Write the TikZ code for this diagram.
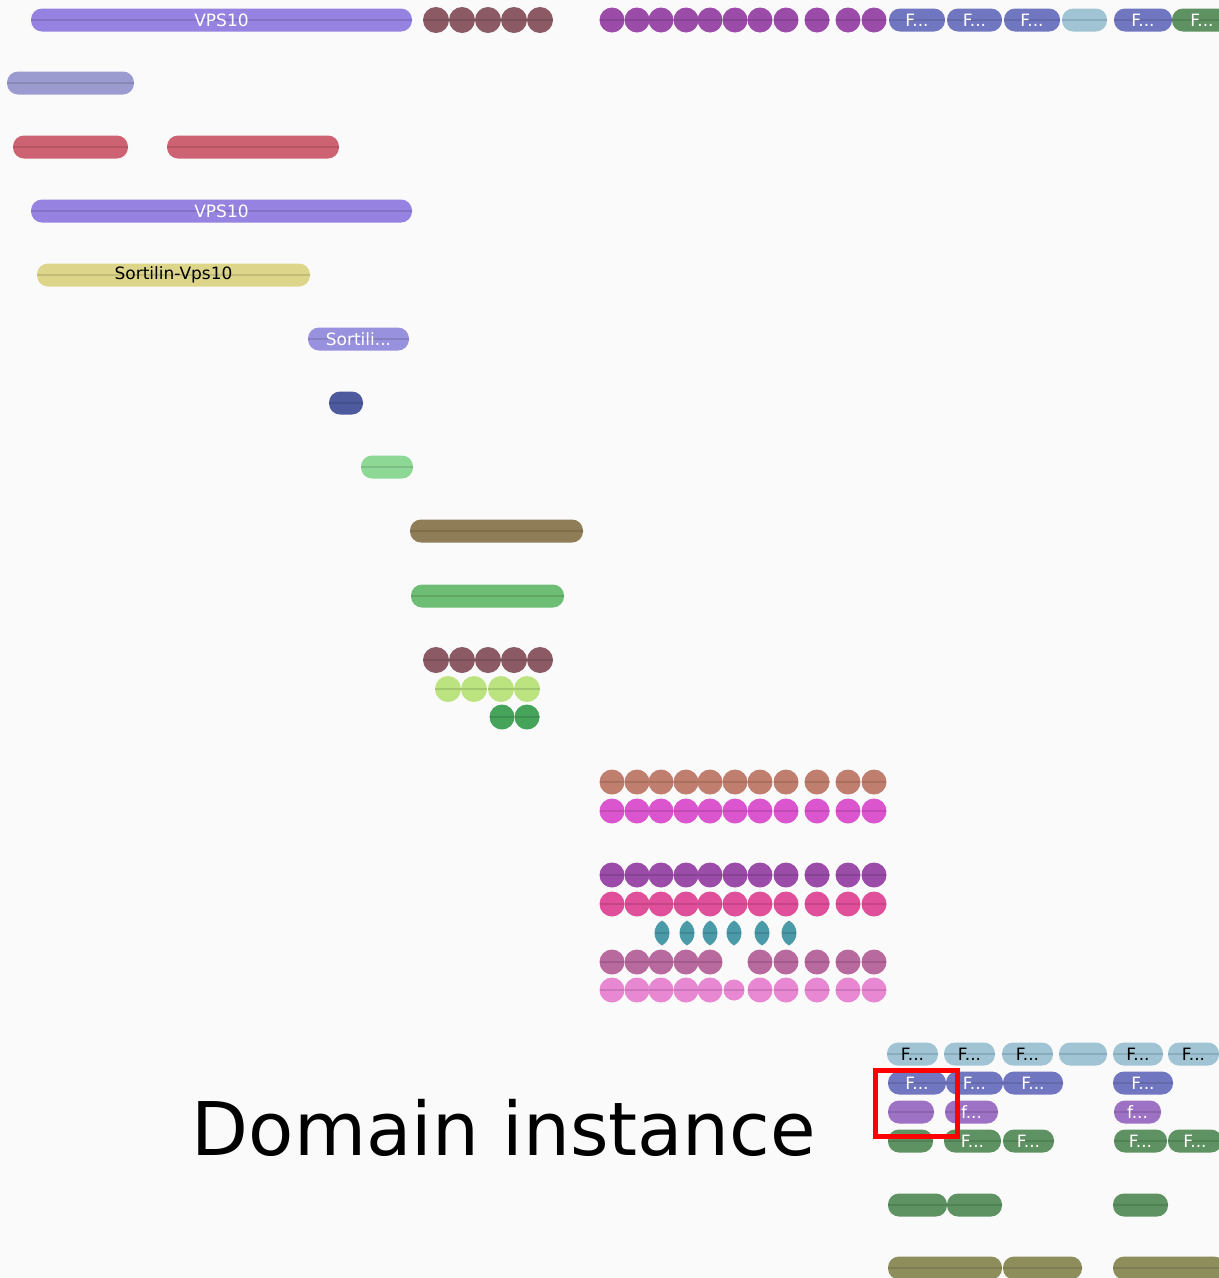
\documentclass[tikz,border=0pt]{standalone}
\usepackage{fontspec}
\setmainfont{DejaVu Sans}
\usetikzlibrary{positioning}

\definecolor{bgc}{RGB}{250,250,250}
\definecolor{vpsc}{RGB}{150,130,225}
\definecolor{wine}{RGB}{139,90,100}
\definecolor{plum}{RGB}{155,75,168}
\definecolor{fblue}{RGB}{112,119,192}
\definecolor{skyc}{RGB}{160,196,212}
\definecolor{fgreen}{RGB}{94,146,98}
\definecolor{lavc}{RGB}{156,155,208}
\definecolor{redc}{RGB}{205,98,114}
\definecolor{sandc}{RGB}{221,214,138}
\definecolor{sortc}{RGB}{152,145,222}
\definecolor{navyc}{RGB}{78,90,158}
\definecolor{mintc}{RGB}{142,216,150}
\definecolor{umber}{RGB}{142,125,86}
\definecolor{leaf}{RGB}{109,190,116}
\definecolor{lime}{RGB}{187,227,127}
\definecolor{grass}{RGB}{69,163,90}
\definecolor{salmon}{RGB}{192,127,110}
\definecolor{magen}{RGB}{218,85,206}
\definecolor{rose}{RGB}{224,80,154}
\definecolor{tealc}{RGB}{74,154,168}
\definecolor{mauve}{RGB}{184,105,158}
\definecolor{pinkc}{RGB}{232,135,210}
\definecolor{violc}{RGB}{157,114,196}
\definecolor{olivec}{RGB}{142,142,92}

\begin{document}
\begin{tikzpicture}[x=1pt,y=-1pt,
  dom/.style={rectangle,rounded corners=11pt,inner sep=0pt,minimum height=23pt,
    fill=#1,text=white,font=\fontsize{17}{17}\selectfont,
    path picture={\draw[#1!88!black,line width=1.6pt]
      (path picture bounding box.west) -- (path picture bounding box.east);}},
  dot/.style={circle,inner sep=0pt,minimum size=25pt,fill=#1,
    path picture={\draw[#1!88!black,line width=1.6pt]
      (path picture bounding box.west) -- (path picture bounding box.east);}}
]

\fill[bgc] (0,0) rectangle (1219,1278);
\useasboundingbox (0,0) rectangle (1219,1278);
\clip (0,0) rectangle (1219,1278);

% first row, full protein
\node[dom=vpsc,minimum width=381pt] (vpsA) at (221.5,20) {VPS10};
\foreach \cx [count=\i] in {436,462,488,514,540}
  \node[dot=wine,minimum size=26pt] (wineA\i) at (\cx,20) {};
\foreach \cx [count=\i] in {612,637,661,686,710,735,760,786,817,848,874}
  \node[dot=plum] (plumA\i) at (\cx,20) {};
\node[dom=fblue,minimum width=56pt] (fA1) at (917,20) {F...};
\node[dom=fblue,minimum width=55pt] (fA2) at (974.5,20) {F...};
\node[dom=fblue,minimum width=56pt] (fA3) at (1032,20) {F...};
\node[dom=skyc,minimum width=45pt] (fA4) at (1084.5,20) {};
\node[dom=fblue,minimum width=58pt] (fA5) at (1143,20) {F...};
\node[dom=fgreen,minimum width=60pt] (fA6) at (1202,20) {F...};

% left staircase
\node[dom=lavc,minimum width=127pt] (lav) at (70.5,83) {};
\node[dom=redc,minimum width=115pt] (redA) at (70.5,147) {};
\node[dom=redc,minimum width=172pt] (redB) at (253,147) {};
\node[dom=vpsc,minimum width=381pt] (vpsB) at (221.5,211) {VPS10};
\node[dom=sandc,minimum width=273pt,text=black] (sortA) at (173.5,275) {Sortilin-Vps10};
\node[dom=sortc,minimum width=101pt] (sortB) at (358.5,339) {Sortili...};
\node[dom=navyc,minimum width=34pt] (navy) at (346,403) {};
\node[dom=mintc,minimum width=52pt] (mint) at (387,467) {};
\node[dom=umber,minimum width=173pt] (umb) at (496.5,531) {};
\node[dom=leaf,minimum width=153pt] (leaf) at (487.5,596) {};

% repeats
\foreach \cx [count=\i] in {436,462,488,514,540}
  \node[dot=wine,minimum size=26pt] (wineB\i) at (\cx,660) {};
\foreach \cx [count=\i] in {448,474,501,527}
  \node[dot=lime,minimum size=26pt] (lime\i) at (\cx,689) {};
\foreach \cx [count=\i] in {502,527}
  \node[dot=grass] (grass\i) at (\cx,717) {};

\foreach \ry/\col/\nm in {782/salmon/sal,811/magen/mag,875/plum/plumB,904/rose/ros}
  \foreach \cx [count=\i] in {612,637,661,686,710,735,760,786,817,848,874}
    \node[dot=\col] (\nm\i) at (\cx,\ry) {};

\foreach \cx [count=\i] in {662,687,710,734,762,789}{
  \coordinate (lens\i) at (\cx,933);
  \fill[tealc,shift={(lens\i)}] (0,-12.5) .. controls (10,-7) and (10,7) .. (0,12.5)
    .. controls (-10,7) and (-10,-7) .. cycle;
  \draw[tealc!88!black,line width=1.6pt,shift={(lens\i)}] (-7,0) -- (7,0);
}
\foreach \cx [count=\i] in {612,637,661,686,710,760,786,817,848,874}
  \node[dot=mauve] (mauve\i) at (\cx,962) {};
\foreach \cx [count=\i] in {612,637,661,686,710,760,786,817,848,874}
  \node[dot=pinkc] (pink\i) at (\cx,990) {};
\node[dot=pinkc,minimum size=21pt] (pink0) at (734,990) {};

% bottom block
\node[dom=skyc,minimum width=51pt,text=black] (sky1) at (912.5,1054) {F...};
\node[dom=skyc,minimum width=51pt,text=black] (sky2) at (969.5,1054) {F...};
\node[dom=skyc,minimum width=51pt,text=black] (sky3) at (1027.5,1054) {F...};
\node[dom=skyc,minimum width=48pt] (sky4) at (1083,1054) {};
\node[dom=skyc,minimum width=50pt,text=black] (sky5) at (1138,1054) {F...};
\node[dom=skyc,minimum width=51pt,text=black] (sky6) at (1193.5,1054) {F...};

\node[dom=fblue,minimum width=58pt] (blu1) at (917,1083) {F...};
\node[dom=fblue,minimum width=57pt] (blu2) at (974.5,1083) {F...};
\node[dom=fblue,minimum width=60pt] (blu3) at (1033,1083) {F...};
\node[dom=fblue,minimum width=60pt] (blu4) at (1143,1083) {F...};

\node[dom=violc,minimum width=46pt] (vio1) at (911,1112) {};
\node[dom=violc,minimum width=53pt] (vio2) at (971.5,1112) {f...};
\node[dom=violc,minimum width=47pt] (vio3) at (1137.5,1112) {f...};

\node[dom=fgreen,minimum width=45pt] (grn1) at (910.5,1141) {};
\node[dom=fgreen,minimum width=57pt] (grn2) at (972.5,1141) {F...};
\node[dom=fgreen,minimum width=51pt] (grn3) at (1028.5,1141) {F...};
\node[dom=fgreen,minimum width=53pt] (grn4) at (1140.5,1141) {F...};
\node[dom=fgreen,minimum width=54pt] (grn5) at (1195,1141) {F...};

\node[dom=fgreen,minimum width=59pt] (gr1) at (917.5,1205) {};
\node[dom=fgreen,minimum width=55pt] (gr2) at (974.5,1205) {};
\node[dom=fgreen,minimum width=55pt] (gr3) at (1140.5,1205) {};

\node[dom=olivec,minimum width=114pt] (olv1) at (945,1268) {};
\node[dom=olivec,minimum width=79pt] (olv2) at (1042.5,1268) {};
\node[dom=olivec,minimum width=112pt] (olv3) at (1169,1268) {};

% highlight and caption
\draw[red,line width=5pt] (875,1070) rectangle (957,1136);
\node[anchor=base,font=\fontsize{74}{74}\selectfont] (cap) at (504,1155) {Domain instance};
\end{tikzpicture}
\end{document}
